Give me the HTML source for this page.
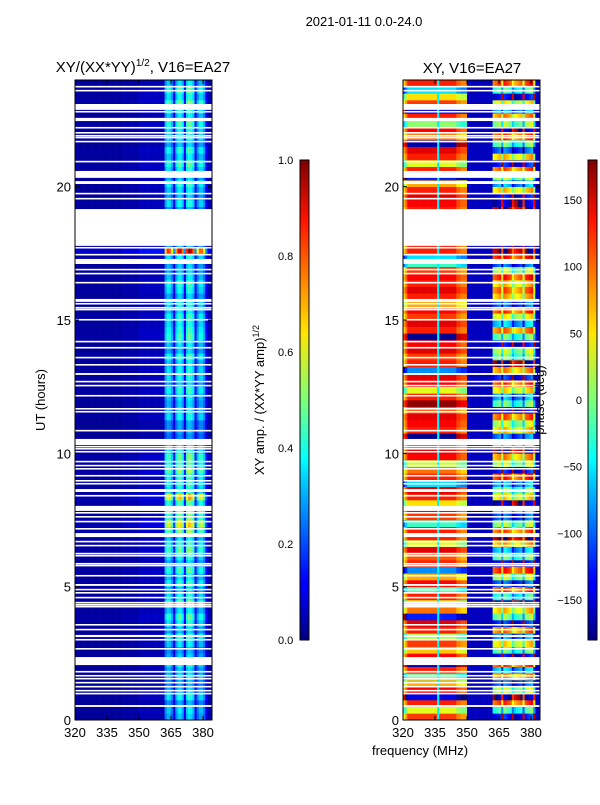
<!DOCTYPE html>
<html><head><meta charset="utf-8">
<style>
body{margin:0;background:#fff;font-family:"Liberation Sans",sans-serif;}
svg text{font-family:"Liberation Sans",sans-serif;}
</style></head>
<body>
<svg id="fig" width="600" height="800" xmlns="http://www.w3.org/2000/svg">
<defs>
<linearGradient id="jet" x1="0" y1="1" x2="0" y2="0">
<stop offset="0" stop-color="#00007f"/><stop offset="0.11" stop-color="#0000ff"/>
<stop offset="0.125" stop-color="#0000ff"/><stop offset="0.34" stop-color="#00d4ff"/>
<stop offset="0.375" stop-color="#00ffff"/><stop offset="0.5" stop-color="#7dff7a"/>
<stop offset="0.64" stop-color="#ffe600"/><stop offset="0.875" stop-color="#ff1300"/>
<stop offset="1" stop-color="#7f0000"/>
</linearGradient>
<clipPath id="clipL"><rect x="75" y="80" width="137" height="640"/></clipPath>
<clipPath id="clipR"><rect x="403" y="80" width="137" height="640"/></clipPath>
</defs>
<text x="364" y="26" font-size="13" text-anchor="middle">2021-01-11 0.0-24.0</text>
<text x="143" y="72" font-size="15" text-anchor="middle">XY/(XX*YY)<tspan font-size="10" dy="-6">1/2</tspan><tspan dy="6">, V16=EA27</tspan></text>
<text x="472" y="73" font-size="15" text-anchor="middle">XY, V16=EA27</text>
<g id="heatL" clip-path="url(#clipL)"></g>
<g id="heatR" clip-path="url(#clipR)"></g>
<rect x="75" y="80" width="137" height="640" fill="none" stroke="#000" stroke-width="1"/>
<rect x="403" y="80" width="137" height="640" fill="none" stroke="#000" stroke-width="1"/>
<g id="axes" font-size="13"></g>
<text transform="translate(45,400) rotate(-90)" font-size="13" text-anchor="middle">UT (hours)</text>
<text x="420" y="755" font-size="13" text-anchor="middle">frequency (MHz)</text>
<text transform="translate(264,400) rotate(-90)" font-size="13" text-anchor="middle">XY amp. / (XX*YY amp)<tspan font-size="9" dy="-5">1/2</tspan></text>
<text transform="translate(544,400) rotate(-90)" font-size="13" text-anchor="middle">phase (deg)</text>
<rect x="300" y="160" width="9" height="480" fill="url(#jet)" stroke="#000" stroke-width="1"/>
<rect x="588" y="160" width="9" height="480" fill="url(#jet)" stroke="#000" stroke-width="1"/>
</svg>
<script>
const freqStart = 320;
const colAmp = [0.025,0.025,0.025,0.025,0.025,0.025,0.025,0.025,0.025,0.025,0.025,0.025,0.025,0.025,0.025,0.025,0.025,0.025,0.025,0.025,0.025,0.025,
 0.035,0.035,0.035,0.035,0.035,0.035,0.035,0.035,
 0.05,0.05,0.05,0.05,0.05,0.05,0.05,0.05,0.05,0.05,0.05,0.05,
 0.24,0.3,0.28,0.22,0.1,0.26,0.32,0.33,0.27,0.1,0.3,0.35,0.33,0.28,0.1,0.22,0.28,0.28,0.22,0.1,0.04,0.04];
const rowScale = [1.0,1.1,0.9,1.2, 1.0,0.9,1.1,1.0, 1.2,1.0,0.9,1.1, 1.3,1.0,1.2,1.4, 1.1,1.5,1.2,1.0,
 1.3,1.1,1.4,1.0, 1.2,1.5,1.3,1.1, 1.6,2.0,1.5,1.7, 1.4,2.1,1.2,1.3, 1.3,1.6,1.4,1.5,
 1.2,1.0,0.8,0.9, 0.9,1.2,1.1,1.0, 1.1,1.3,1.0,1.2, 1.2,1.1,1.3,1.0, 1.1,1.4,1.3,1.2,
 1.3,1.1,1.2,1.0, 1.2,1.3,1.1,1.0, 1.0,1.2,2.8,1.0, 1,1,1,1, 0.9,1.2,1.0,1.1,
 1.3,1.0,1.2,1.4, 1.1,1.3,1.0,1.2, 1.2,1.4,1.1,1.3, 1.5,1.2,1.4,1.1];
const phaseA = [140,60,150,-120, 160,100,20,150, -140,160,90,140, 40,150,170,-100, 120,60,150,10,
 160,100,-60,150, 130,170,60,150, 150,0,140,160, 80,150,170,-30, 150,120,50,160,
 170,140,-150,150, 160,170,130,-160, 150,60,160,170, -60,150,140,170, 160,-150,150,170,
 140,160,100,150, 170,150,160,140, 0,-30,150,150, 150,150,150,150, 150,160,170,150,
 100,-100,150,60, 150,170,-140,120, 160,30,150,-120, 140,80,-30,150];
const phaseB = [-90,20,150,-130, 60,-60,120,-20, 150,-100,30,90, -40,130,-80,40, 100,-130,10,150,
 -60,60,160,-100, 30,-20,110,-150, 140,50,-60,20, -120,90,40,-30, 160,-90,60,120,
 -140,20,-50,100, 60,140,-100,30, -30,90,150,-80, 120,-140,40,60, -100,30,130,-20,
 80,150,-60,110, 140,100,160,60, -60,170,-150,-100, 0,0,0,0, -150,-120,-100,100,
 -30,60,140,-90, 100,-60,30,150, -120,50,120,-30, 80,-100,20,150];
// per-channel phase offset; null = fixed-value channel
const colOffset = [-90,-60,-25,-25,-25,-25,-25,-25,-25,-25,-25,-25,-25,-25,-25,-25,null,-25,-25,-25,-25,-25,-25,-25,-25,-50,-50,-60,-60,-60,
 null,null,null,null,null,null,null,null,null,null,null,null,
 -60,-50,-40,-30,-100,-20,-30,-40,-50,-110,-80,-70,-60,-50,-120,-40,-30,-20,-10,-100,null,null];
const fixedPhase = {16:-50, def:-158};
const gapStart = [23.72,23.57,22.88,22.78,22.46,22.18,21.99,21.88,21.81,21.66,20.91,20.33,20.10,19.71,19.52,17.78,17.68,17.42,17.10,16.86,16.71,16.37,15.68,15.58,15.43,15.36,14.98,14.16,13.93,13.56,13.29,12.94,12.66,12.51,12.13,11.64,11.53,10.82,10.31,10.22,10.14,10.03,9.66,9.51,9.39,9.13,8.94,8.83,8.55,8.38,7.84,7.74,7.59,7.41,7.14,6.86,6.66,6.51,6.21,6.13,5.83,5.76,5.38,5.03,4.86,4.74,4.56,4.37,4.29,4.22,3.54,3.36,3.11,2.98,2.64,2.06,1.78,1.63,1.52,1.37,1.22,1.07,0.96,0.49];
const gapLen = [0.06,0.06,0.22,0.06,0.12,0.06,0.06,0.06,0.06,0.06,0.06,0.26,0.11,0.06,0.06,1.38,0.06,0.06,0.19,0.06,0.06,0.06,0.11,0.06,0.06,0.06,0.06,0.06,0.06,0.06,0.06,0.07,0.06,0.06,0.06,0.06,0.06,0.06,0.23,0.06,0.06,0.06,0.06,0.06,0.06,0.06,0.06,0.06,0.11,0.06,0.19,0.06,0.06,0.06,0.06,0.15,0.06,0.06,0.06,0.06,0.06,0.06,0.06,0.07,0.06,0.06,0.06,0.06,0.06,0.06,0.06,0.06,0.08,0.06,0.06,0.30,0.06,0.06,0.06,0.06,0.06,0.06,0.06,0.07];
const yTicks = [0,5,10,15,20];
const xTicks = [320,335,350,365,380];
const ampTicks = [0.0,0.2,0.4,0.6,0.8,1.0];
const phaseTicks = [-150,-100,-50,0,50,100,150];

const NS = "http://www.w3.org/2000/svg";
const pxPerMHz = 137/64.2, pxPerHour = 640/24, rowH = 0.25;
const xL = f => 75 + (f - freqStart) * pxPerMHz;
const xR = f => 403 + (f - freqStart) * pxPerMHz;
const yT = h => 720 - h * pxPerHour;
function jet(v){ v=Math.max(0,Math.min(1,v));
 const c=t=>Math.round(255*Math.max(0,Math.min(1,1.5-Math.abs(4*v-t))));
 return `rgb(${c(3)},${c(2)},${c(1)})`; }
const wrap = p => ((p + 180) % 360 + 360) % 360 - 180;
function mk(tag, attrs, parent){ const e=document.createElementNS(NS,tag);
 for(const k in attrs) e.setAttribute(k, attrs[k]); parent.appendChild(e); return e; }
const gL=document.getElementById('heatL'), gR=document.getElementById('heatR');
for(let r=0;r<rowScale.length;r++){
 const y=yT((r+1)*rowH), h=rowH*pxPerHour+0.3;
 for(let c=0;c<colAmp.length;c++){
  const f=freqStart+c;
  const a=mk('rect',{x:xL(f),y:y,width:pxPerMHz+0.3,height:h,fill:jet(colAmp[c]*rowScale[r])},gL);
  
  
  let p;
  if(colOffset[c]===null) p = (fixedPhase[c]!==undefined)?fixedPhase[c]:fixedPhase.def;
  else if(c<30) p = wrap(phaseA[r]+colOffset[c]);
  else p = wrap(phaseB[r]+colOffset[c]);
  const b=mk('rect',{x:xR(f),y:y,width:pxPerMHz+0.3,height:h,fill:jet((p+180)/360)},gR);
  
  
 }
}
for(let i=0;i<gapStart.length;i++){
 const y=yT(gapStart[i]+gapLen[i]), h=gapLen[i]*pxPerHour;
 const g1=mk('rect',{x:75,y:y,width:137,height:h,fill:'#fff'},gL);
 
 
 const g2=mk('rect',{x:403,y:y,width:137,height:h,fill:'#fff'},gR);
 
 
}
const ax=document.getElementById('axes');
[[75,xL],[403,xR]].forEach(([x0,xf])=>{
 yTicks.forEach(t=>{ const y=yT(t);
  mk('line',{x1:x0,x2:x0+4,y1:y,y2:y,stroke:'#000'},ax);
  mk('line',{x1:x0+137,x2:x0+133,y1:y,y2:y,stroke:'#000'},ax);
  const tx=mk('text',{x:x0-4,y:y+5,'text-anchor':'end'},ax); tx.textContent=t;
  
  
 });
 xTicks.forEach(t=>{ const x=xf(t);
  mk('line',{x1:x,x2:x,y1:720,y2:716,stroke:'#000'},ax);
  mk('line',{x1:x,x2:x,y1:80,y2:84,stroke:'#000'},ax);
  const tx=mk('text',{x:x,y:737,'text-anchor':'middle'},ax); tx.textContent=t;
  
  
 });
});
ampTicks.forEach(t=>{ const y=640-t*480;
 mk('line',{x1:300,x2:303,y1:y,y2:y,stroke:'#000'},ax);
 const tx=mk('text',{x:278,y:y+4,'font-size':'11'},ax); tx.textContent=t.toFixed(1);
 
 
});
phaseTicks.forEach(t=>{ const y=640-(t+180)/360*480;
 mk('line',{x1:588,x2:591,y1:y,y2:y,stroke:'#000'},ax);
 const tx=mk('text',{x:582,y:y+4,'font-size':'11','text-anchor':'end'},ax); tx.textContent=(t<0?'\u2212'+(-t):t);
 
 
});
</script>
</body></html>
